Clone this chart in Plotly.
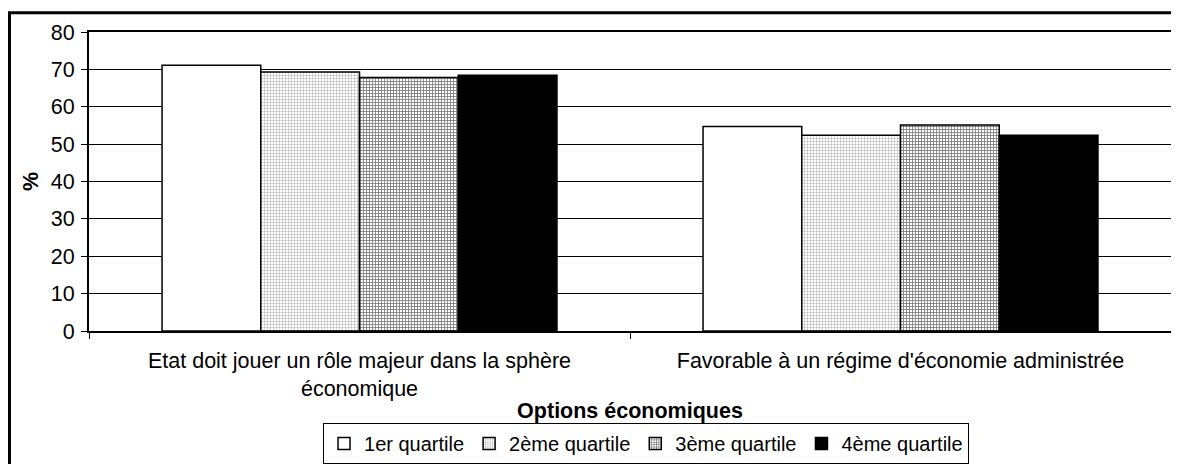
import plotly.graph_objects as go

categories = ["Etat doit jouer un rôle majeur dans la sphère<br>économique",
              "Favorable à un régime d'économie administrée"]
series_names = ["1er quartile", "2ème quartile", "3ème quartile", "4ème quartile"]
q1 = [71.1, 54.7]
q2 = [69.3, 52.4]
q3 = [67.8, 55.1]
q4 = [68.4, 52.4]

font_family = "Liberation Sans, Arial, sans-serif"
fs = 21.5

fig = go.Figure()
fig.add_trace(go.Bar(x=categories, y=q1, name=series_names[0],
                     marker=dict(color="white", line=dict(color="black", width=1.5))))
fig.add_trace(go.Bar(x=categories, y=q2, name=series_names[1],
                     marker=dict(color="white", line=dict(color="black", width=1.5),
                                 pattern=dict(shape="+", fgcolor="#555", bgcolor="white",
                                              size=3, solidity=0.3))))
fig.add_trace(go.Bar(x=categories, y=q3, name=series_names[2],
                     marker=dict(color="white", line=dict(color="black", width=1.5),
                                 pattern=dict(shape="+", fgcolor="black", bgcolor="white",
                                              size=3, solidity=0.5))))
fig.add_trace(go.Bar(x=categories, y=q4, name=series_names[3],
                     marker=dict(color="black", line=dict(color="black", width=1.5))))

# page body has an 8px margin, so the figure is sized to fit inside the window
fig.update_layout(
    width=1163, height=456,
    margin=dict(l=81, r=0, t=24, b=133),
    paper_bgcolor="white", plot_bgcolor="white",
    font=dict(family=font_family, size=fs, color="black"),
    barmode="group", bargap=0.27, bargroupgap=0,
    showlegend=True,
    legend=dict(orientation="h", xref="container", yref="container",
                x=0.5486, xanchor="center", y=0.0, yanchor="bottom",
                bordercolor="black", borderwidth=1, font=dict(size=20),
                itemwidth=30, tracegroupgap=0),
)

fig.update_xaxes(
    automargin=False,
    showline=True, linecolor="black", linewidth=2, mirror=True,
    ticks="outside", tickson="boundaries", ticklen=6, tickcolor="black",
    ticklabelstandoff=9,
    title=dict(text="Options économiques", font=dict(size=fs, weight="bold"), standoff=0),
    tickfont=dict(size=fs),
)
fig.update_yaxes(
    automargin=False,
    range=[0, 80], dtick=10, showline=True, linecolor="black", linewidth=2, mirror=True,
    ticks="outside", ticklen=6, tickcolor="black", ticklabelstandoff=2,
    showgrid=True, gridcolor="black", gridwidth=1, zeroline=False,
    title=dict(text="%", font=dict(size=fs, weight="bold"), standoff=6),
    tickfont=dict(size=fs),
)

# outer chart frame (left and top edges visible)
fig.add_shape(type="line", xref="paper", yref="paper", x0=-0.0735, x1=-0.0735, y0=1.064, y1=-0.6,
              line=dict(color="black", width=3))
fig.add_shape(type="line", xref="paper", yref="paper", x0=-0.0749, x1=1.01, y0=1.064, y1=1.064,
              line=dict(color="black", width=3))

fig.write_html("out.html")
